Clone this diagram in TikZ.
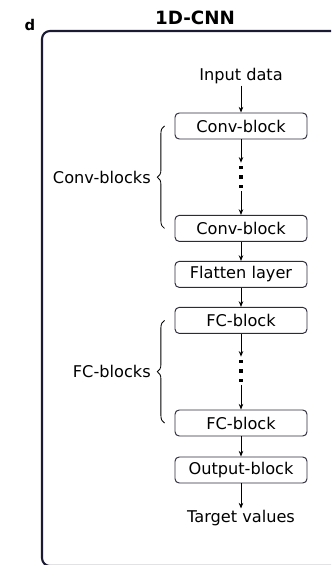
\documentclass[tikz,border=0pt]{standalone}
\usepackage{fontspec}
\setmainfont{DejaVu Sans}
\usetikzlibrary{arrows.meta,decorations.pathreplacing}
\definecolor{framenavy}{HTML}{1A1A33}
\definecolor{boxline}{HTML}{2B2B3B}

\begin{document}
\begin{tikzpicture}[font=\fontsize{11.5pt}{13pt}\selectfont, >={Stealth[length=4pt,width=3.2pt]},
  block/.style={draw=boxline, rounded corners=3pt, minimum width=3.3cm, minimum height=0.65cm, inner sep=1pt, line width=0.7pt},
  txt/.style={inner sep=1pt},
  vdotsbox/.style={minimum width=0.2cm, minimum height=0.7cm, inner sep=0pt,
    path picture={\foreach \dy in {-0.23,0,0.23}
      \fill ([yshift=\dy cm]path picture bounding box.center) +(-0.038,-0.038) rectangle +(0.038,0.038);}},
  arr/.style={->, line width=0.6pt},
  grp/.style={decorate, decoration={brace, amplitude=0.18cm}, line width=0.6pt}]
  \useasboundingbox (0,0) rectangle (8.275,-14.125);
  \clip (0,0) rectangle (8.275,-14.125);
  % panel frame
  \draw[framenavy, line width=1.5pt, rounded corners=0.2cm] (8.6,-0.775) -- (1.05,-0.775) -- (1.05,-14.15) -- (8.6,-14.15);
  \node[font=\bfseries\fontsize{13pt}{15pt}\selectfont] (title) at (4.875,-0.45) {1D-CNN};
  \node[font=\bfseries\fontsize{10.5pt}{12pt}\selectfont] (panel) at (0.75,-0.62) {d};
  % network
  \node[txt]      (input)   at (6.025,-1.9)    {Input data};
  \node[block]    (conv1)   at (6.025,-3.15)   {Conv-block};
  \node[vdotsbox] (dots1)   at (6.025,-4.425)  {};
  \node[block]    (conv2)   at (6.025,-5.71)   {Conv-block};
  \node[block]    (flatten) at (6.025,-6.86)   {Flatten layer};
  \node[block]    (fc1)     at (6.025,-8.01)   {FC-block};
  \node[vdotsbox] (dots2)   at (6.025,-9.275)  {};
  \node[block]    (fc2)     at (6.025,-10.575) {FC-block};
  \node[block]    (output)  at (6.025,-11.75)  {Output-block};
  \node[txt]      (target)  at (6.025,-12.95)  {Target values};
  \draw[arr] (input) -- (conv1);
  \draw[arr] (conv1) -- (dots1);
  \draw[arr] (dots1) -- (conv2);
  \draw[arr] (conv2) -- (flatten);
  \draw[arr] (flatten) -- (fc1);
  \draw[arr] (fc1) -- (dots2);
  \draw[arr] (dots2) -- (fc2);
  \draw[arr] (fc2) -- (output);
  \draw[arr] (output) -- (target);
  % groups
  \draw[grp] ([xshift=-0.25cm]conv2.west) -- node[left=0.3cm, txt] (convlbl) {Conv-blocks} ([xshift=-0.25cm]conv1.west);
  \draw[grp] ([xshift=-0.25cm]fc2.west) -- node[left=0.3cm, txt] (fclbl) {FC-blocks} ([xshift=-0.25cm]fc1.west);
\end{tikzpicture}
\end{document}
